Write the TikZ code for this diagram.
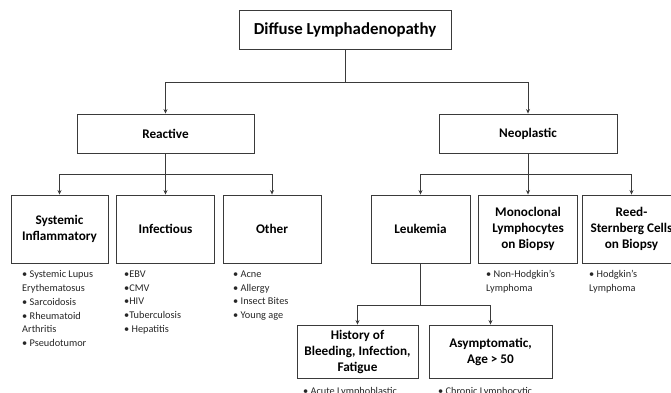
\documentclass[tikz,border=0pt]{standalone}
\usepackage{fontspec}
\setmainfont{Carlito}
\usetikzlibrary{arrows.meta}
\definecolor{ln}{HTML}{3A3A3A}
\tikzset{
  box/.style={draw=ln, line width=0.9pt, align=center, inner sep=2pt,
    font=\bfseries\fontsize{13.2}{16}\selectfont, text=black},
  arr/.style={draw=ln, line width=0.9pt, -{Stealth[length=4.5pt,width=4pt]}},
  ln/.style={draw=ln, line width=0.9pt},
  lst/.style={align=left, inner sep=0pt, anchor=north west,
    font=\fontsize{10.3}{13.8}\selectfont, text=black!85}
}
\begin{document}
\begin{tikzpicture}[x=1pt,y=-1pt]
\useasboundingbox (0,0) rectangle (671,392);
% boxes
\node[box, minimum width=212pt, minimum height=39pt, font=\bfseries\fontsize{16.8}{20}\selectfont] (top) at (345,29.5) {Diffuse Lymphadenopathy};
\node[box, minimum width=177pt, minimum height=39pt] (rea) at (165.5,133.5) {Reactive};
\node[box, minimum width=178pt, minimum height=39pt] (neo) at (528,133.5) {Neoplastic};
\node[box, minimum width=97pt, minimum height=68pt] (sys) at (59.5,229) {Systemic\\Inflammatory};
\node[box, minimum width=98pt, minimum height=68pt] (inf) at (165.5,229) {Infectious};
\node[box, minimum width=98pt, minimum height=68pt] (oth) at (272,229) {Other};
\node[box, minimum width=99pt, minimum height=68pt] (leu) at (420.5,229) {Leukemia};
\node[box, minimum width=99pt, minimum height=68pt] (mon) at (528,229) {Monoclonal\\Lymphocytes\\on Biopsy};
\node[box, minimum width=99pt, minimum height=68pt] (ree) at (631.5,229) {Reed-\\Sternberg Cells\\on Biopsy};
\node[box, minimum width=121pt, minimum height=53pt] (his) at (357.5,351.5) {History of\\Bleeding, Infection,\\Fatigue};
\node[box, minimum width=123pt, minimum height=53pt] (asy) at (490.5,351.5) {Asymptomatic,\\Age > 50};
% connectors
\coordinate (j1) at (345,82);
\draw[ln] (top.south) -- (j1);
\draw[arr] (j1) -| (rea.north);
\draw[arr] (j1) -| (neo.north);
\coordinate (j2) at (165.5,174);
\draw[arr] (rea.south) -- (inf.north);
\draw[arr] (j2) -| (sys.north);
\draw[arr] (j2) -| (oth.north);
\coordinate (j3) at (528,174);
\draw[arr] (neo.south) -- (mon.north);
\draw[arr] (j3) -| (leu.north);
\draw[arr] (j3) -| (ree.north);
\coordinate (j4) at (420.5,305);
\draw[ln] (leu.south) -- (j4);
\draw[arr] (j4) -| (his.north);
\draw[arr] (j4) -| (asy.north);
% lists
\node[lst] (sysl) at (22,270.5) {• Systemic Lupus\\Erythematosus\\• Sarcoidosis\\• Rheumatoid\\Arthritis\\• Pseudotumor};
\node[lst] (infl) at (124,270.5) {•EBV\\•CMV\\•HIV\\•Tuberculosis\\• Hepatitis};
\node[lst] (othl) at (233,270.5) {• Acne\\• Allergy\\• Insect Bites\\• Young age};
\node[lst] (monl) at (486,270.5) {• Non-Hodgkin’s\\Lymphoma};
\node[lst] (reel) at (589,270.5) {• Hodgkin’s\\Lymphoma};
\node[lst] (hisl) at (303,387) {• Acute Lymphoblastic};
\node[lst] (asyl) at (438,387) {• Chronic Lymphocytic};
\end{tikzpicture}
\end{document}
